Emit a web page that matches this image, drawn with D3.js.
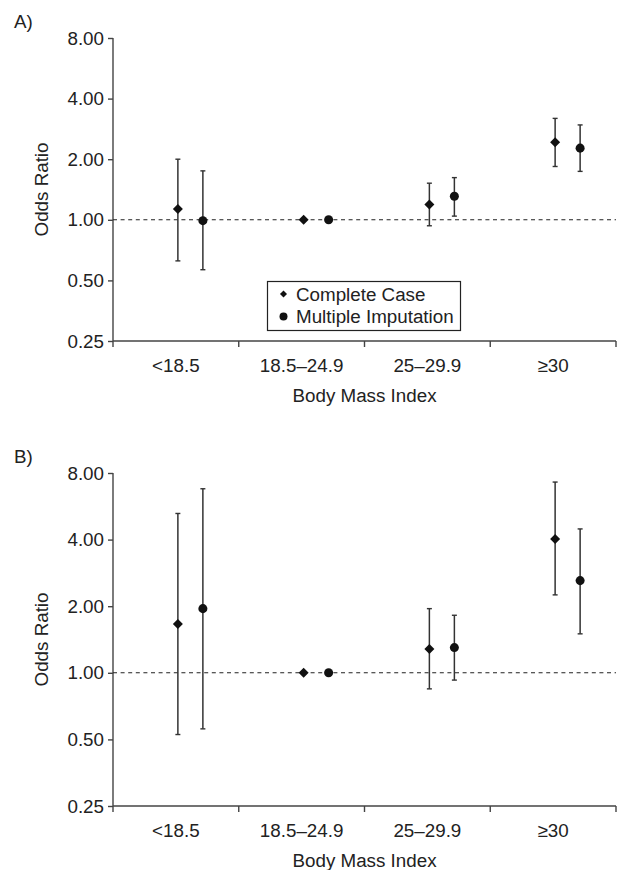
<!DOCTYPE html>
<html lang="en">
<head>
  <meta charset="utf-8">
  <title>Odds Ratio by Body Mass Index</title>
  <script src="https://d3js.org/d3.v7.min.js" charset="utf-8"></script>
  <style type="text/css">
    body { margin: 0; background: #fff; }
    svg text { font-family: "Liberation Sans", Arial, sans-serif; fill: #222; }
  </style>
</head>
<body>
  <svg id="chart" width="630" height="870" xmlns="http://www.w3.org/2000/svg"></svg>
  <script type="text/javascript">
    var categories = ['<18.5', '18.5\u201324.9', '25\u201329.9', '\u226530'];
    var yTicks = [0.25, 0.5, 1, 2, 4, 8];
    var seriesNames = ['Complete Case', 'Multiple Imputation'];

    // panel A (est, lower, upper); reference group has no interval
    var aCompleteEst = [1.13, 1.0, 1.19, 2.43];
    var aCompleteLo = [0.625, null, 0.934, 1.84];
    var aCompleteHi = [2.0, null, 1.52, 3.19];
    var aImputedEst = [0.99, 1.0, 1.31, 2.27];
    var aImputedLo = [0.565, null, 1.043, 1.74];
    var aImputedHi = [1.75, null, 1.62, 2.96];

    // panel B
    var bCompleteEst = [1.66, 1.0, 1.28, 4.03];
    var bCompleteLo = [0.526, null, 0.846, 2.25];
    var bCompleteHi = [5.25, null, 1.95, 7.28];
    var bImputedEst = [1.95, 1.0, 1.30, 2.61];
    var bImputedLo = [0.558, null, 0.927, 1.50];
    var bImputedHi = [6.79, null, 1.82, 4.47];

    var svg = d3.select('#chart');
    var ink = '#222';
    var axisInk = '#444';
    var fontSize = '18.8px';

    // diamond = square turned 45 degrees
    function marker(shape, size) {
      return d3.symbol().type(shape === 'diamond' ? d3.symbolSquare : d3.symbolCircle).size(size)();
    }
    function rot(shape) { return shape === 'diamond' ? ' rotate(45)' : ''; }

    function drawPanel(opts) {
      var g = svg.append('g');
      var y = d3.scaleLog().base(2).domain([0.25, 8]).range([opts.bottom, opts.top]);
      var x = d3.scaleBand().domain(categories).range([113, 616]);

      // panel letter
      g.append('text').attr('x', 14).attr('y', opts.top - 10)
        .attr('font-size', fontSize).text(opts.label);

      // y axis
      var yAxis = d3.axisLeft(y).tickValues(yTicks).tickSize(5).tickPadding(4)
        .tickFormat(d3.format('.2f'));
      var ya = g.append('g').attr('transform', 'translate(113,0)').call(yAxis);
      ya.select('.domain').attr('stroke', axisInk).attr('stroke-width', 1.4)
        .attr('d', 'M0,' + opts.top + 'V' + opts.bottom);
      ya.selectAll('.tick line').attr('stroke', axisInk).attr('stroke-width', 1.4);
      ya.selectAll('.tick text').attr('font-size', fontSize).attr('font-family', null).attr('fill', ink);

      // x axis: ticks on band boundaries, labels at band centres
      var xa = g.append('g');
      xa.append('line').attr('x1', 113).attr('x2', 616)
        .attr('y1', opts.bottom).attr('y2', opts.bottom)
        .attr('stroke', axisInk).attr('stroke-width', 1.4);
      var edges = categories.map(function (c) { return x(c); }).concat([x.range()[1]]);
      xa.selectAll('line.edge').data(edges).enter().append('line')
        .attr('class', 'edge')
        .attr('x1', function (d) { return d; }).attr('x2', function (d) { return d; })
        .attr('y1', opts.bottom).attr('y2', opts.bottom + 6)
        .attr('stroke', axisInk).attr('stroke-width', 1.4);
      xa.selectAll('text.cat').data(categories).enter().append('text')
        .attr('class', 'cat')
        .attr('x', function (d) { return x(d) + x.bandwidth() / 2; })
        .attr('y', opts.bottom + 31)
        .attr('text-anchor', 'middle').attr('font-size', fontSize)
        .text(function (d) { return d; });

      g.append('text').attr('x', (113 + 616) / 2).attr('y', opts.bottom + 61)
        .attr('text-anchor', 'middle').attr('font-size', fontSize).text('Body Mass Index');

      g.append('text')
        .attr('transform', 'translate(48,' + ((opts.top + opts.bottom) / 2) + ') rotate(-90)')
        .attr('text-anchor', 'middle').attr('font-size', fontSize).text('Odds Ratio');

      // reference line at OR = 1
      g.append('line').attr('x1', 113).attr('x2', 616)
        .attr('y1', y(1)).attr('y2', y(1))
        .attr('stroke', ink).attr('stroke-width', 1.1).attr('stroke-dasharray', '4,3.6');

      var series = [
        { est: opts.cEst, lo: opts.cLo, hi: opts.cHi, dx: 2, shape: 'diamond', size: 50 },
        { est: opts.iEst, lo: opts.iLo, hi: opts.iHi, dx: 27, shape: 'circle', size: 64 }
      ];

      series.forEach(function (s) {
        var rows = categories.map(function (c, i) {
          return { cat: c, est: s.est[i], lo: s.lo[i], hi: s.hi[i] };
        });
        var cx = function (d) { return x(d.cat) + x.bandwidth() / 2 + s.dx; };
        var bars = rows.filter(function (d) { return d.lo !== null; });

        g.selectAll(null).data(bars).enter().append('line')
          .attr('x1', cx).attr('x2', cx)
          .attr('y1', function (d) { return y(d.lo); })
          .attr('y2', function (d) { return y(d.hi); })
          .attr('stroke', '#333').attr('stroke-width', 1.5);
        ['lo', 'hi'].forEach(function (k) {
          g.selectAll(null).data(bars).enter().append('line')
            .attr('x1', function (d) { return cx(d) - 2.5; })
            .attr('x2', function (d) { return cx(d) + 2.5; })
            .attr('y1', function (d) { return y(d[k]); })
            .attr('y2', function (d) { return y(d[k]); })
            .attr('stroke', '#333').attr('stroke-width', 1.4);
        });

        g.selectAll(null).data(rows).enter().append('path')
          .attr('d', marker(s.shape, s.size))
          .attr('transform', function (d) { return 'translate(' + cx(d) + ',' + y(d.est) + ')' + rot(s.shape); })
          .attr('fill', '#111');
      });

      if (opts.legend) {
        var lg = g.append('g');
        lg.append('rect').attr('x', 267.5).attr('y', 281.5).attr('width', 193).attr('height', 49)
          .attr('fill', '#fff').attr('stroke', ink).attr('stroke-width', 1.2);
        var shapes = ['diamond', 'circle'];
        var sizes = [25, 50];
        seriesNames.forEach(function (name, i) {
          var yy = 294 + i * 22.5;
          lg.append('path')
            .attr('d', marker(shapes[i], sizes[i]))
            .attr('transform', 'translate(283.5,' + yy + ')' + rot(shapes[i])).attr('fill', '#111');
          lg.append('text').attr('x', 296).attr('y', yy + 6.5)
            .attr('font-size', fontSize).text(name);
        });
      }
    }

    drawPanel({
      label: 'A)', top: 38, bottom: 341, legend: true,
      cEst: aCompleteEst, cLo: aCompleteLo, cHi: aCompleteHi,
      iEst: aImputedEst, iLo: aImputedLo, iHi: aImputedHi
    });
    drawPanel({
      label: 'B)', top: 473, bottom: 806, legend: false,
      cEst: bCompleteEst, cLo: bCompleteLo, cHi: bCompleteHi,
      iEst: bImputedEst, iLo: bImputedLo, iHi: bImputedHi
    });
  </script>
</body>
</html>
